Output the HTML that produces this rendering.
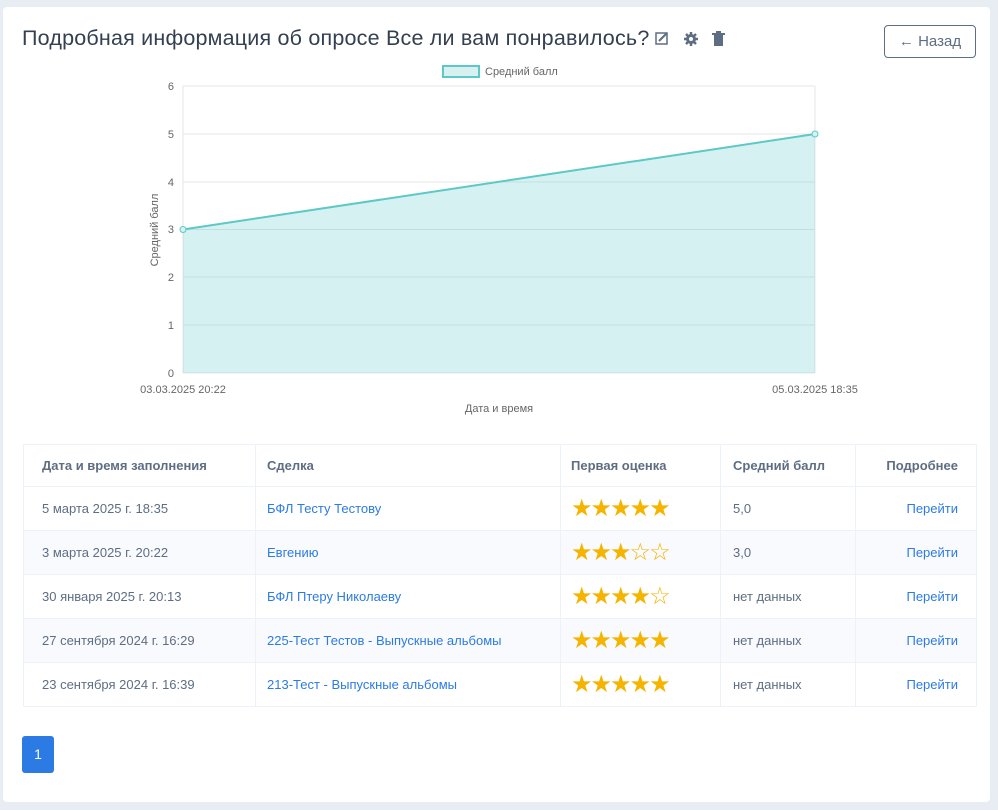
<!DOCTYPE html>
<html><head><meta charset="utf-8"><style>
body{margin:0;width:998px;height:810px;background:#e8edf4;font-family:"Liberation Sans",sans-serif;overflow:hidden;position:relative}
.card{position:absolute;left:3px;top:7px;width:987px;height:795px;background:#fff;border-radius:4px}
.title{position:absolute;left:22px;top:26px;font-size:21.5px;color:#344050;white-space:nowrap;letter-spacing:0.2px}
.btn{position:absolute;left:884px;top:25px;width:92px;height:33px;border:1px solid #5e6e82;border-radius:4px;color:#5e6e82;font-size:15px;line-height:32px;text-align:center;box-sizing:border-box}
table{position:absolute;left:23px;top:444px;width:953px;border-collapse:collapse;font-size:13px;color:#5e6e82;table-layout:fixed}
td,th{border:1px solid #edf2f9;padding:0 18px;height:43px;text-align:left;white-space:nowrap;overflow:hidden;line-height:16px}
th{font-weight:bold;color:#5e6e82;height:41px}
tr.s td{background:#f9fafd}
a{color:#2c7be5;text-decoration:none}
.st{color:#f5b400;font-size:24px;line-height:22px;letter-spacing:-2px;padding-left:10px}
.r{text-align:right}
.pg{position:absolute;left:22px;top:736px;width:32px;height:37px;background:#2c7be5;border-radius:3px;color:#fff;font-size:14px;line-height:37px;text-align:center}
.p11{padding-left:11px}.p12{padding-left:12px}.p10{padding-left:10px}
</style></head><body>
<div class="card"></div>
<div class="title">Подробная информация об опросе Все ли вам понравилось?</div>
<svg style="position:absolute;left:655px;top:31px" width="75" height="16">
<rect x="1" y="2" width="11" height="11" fill="none" stroke="#5e6e82" stroke-width="1.5"/><line x1="4" y1="10" x2="12" y2="2" stroke="#5e6e82" stroke-width="2"/>
<circle cx="36" cy="8" r="5" fill="#5e6e82"/>
<g stroke="#5e6e82" stroke-width="2.5"><line x1="36" y1="1" x2="36" y2="15"/><line x1="29" y1="8" x2="43" y2="8"/><line x1="31" y1="3" x2="41" y2="13"/><line x1="41" y1="3" x2="31" y2="13"/></g>
<circle cx="36" cy="8" r="2" fill="#fff"/>
<rect x="59" y="4" width="9" height="11" fill="#5e6e82"/><rect x="57" y="2" width="13" height="2" fill="#5e6e82"/><rect x="61" y="0" width="5" height="2" fill="#5e6e82"/>
</svg>
<div class="btn">← Назад</div>
<svg style="position:absolute;left:0;top:0" width="998" height="430" font-family="Liberation Sans, sans-serif" font-size="11" fill="#666">
<rect x="443" y="66" width="36" height="11" fill="#d8f0f0" stroke="#5cc9c6" stroke-width="2"/>
<text x="485" y="75" font-size="11">Средний балл</text>
<g stroke="#e6e6e6">
<line x1="183" y1="86" x2="815" y2="86"/><line x1="183" y1="134" x2="815" y2="134"/>
<line x1="183" y1="182" x2="815" y2="182"/><line x1="183" y1="229.5" x2="815" y2="229.5"/>
<line x1="183" y1="277" x2="815" y2="277"/><line x1="183" y1="325" x2="815" y2="325"/>
<line x1="183" y1="373" x2="815" y2="373"/><line x1="815" y1="86" x2="815" y2="373"/><line x1="183" y1="86" x2="183" y2="373"/>
</g>
<polygon points="183,229.5 815,134 815,373 183,373" fill="#5cc9c6" fill-opacity="0.25"/>
<polyline points="183,229.5 815,134" stroke="#5cc9c6" stroke-width="2" fill="none"/>
<circle cx="183" cy="229.5" r="3" fill="#d8f0f0" stroke="#5cc9c6"/><circle cx="815" cy="134" r="3" fill="#d8f0f0" stroke="#5cc9c6"/>
<g text-anchor="end"><text x="174" y="90">6</text><text x="174" y="138">5</text><text x="174" y="186">4</text><text x="174" y="233">3</text><text x="174" y="281">2</text><text x="174" y="329">1</text><text x="174" y="377">0</text></g>
<text x="183" y="393" text-anchor="middle">03.03.2025 20:22</text>
<text x="815" y="393" text-anchor="middle">05.03.2025 18:35</text>
<text x="499" y="412" text-anchor="middle">Дата и время</text>
<text transform="translate(158,230) rotate(-90)" text-anchor="middle">Средний балл</text>
</svg>
<table>
<colgroup><col style="width:232px"><col style="width:305px"><col style="width:160px"><col style="width:135px"><col style="width:121px"></colgroup>
<tr><th>Дата и время заполнения</th><th class="p11">Сделка</th><th class="p10">Первая оценка</th><th class="p12">Средний балл</th><th class="r">Подробнее</th></tr>
<tr><td>5 марта 2025 г. 18:35</td><td class="p11"><a>БФЛ Тесту Тестову</a></td><td class="st">★★★★★</td><td class="p12">5,0</td><td class="r"><a>Перейти</a></td></tr>
<tr class="s"><td>3 марта 2025 г. 20:22</td><td class="p11"><a>Евгению</a></td><td class="st">★★★☆☆</td><td class="p12">3,0</td><td class="r"><a>Перейти</a></td></tr>
<tr><td>30 января 2025 г. 20:13</td><td class="p11"><a>БФЛ Птеру Николаеву</a></td><td class="st">★★★★☆</td><td class="p12">нет данных</td><td class="r"><a>Перейти</a></td></tr>
<tr class="s"><td>27 сентября 2024 г. 16:29</td><td class="p11"><a>225-Тест Тестов - Выпускные альбомы</a></td><td class="st">★★★★★</td><td class="p12">нет данных</td><td class="r"><a>Перейти</a></td></tr>
<tr><td>23 сентября 2024 г. 16:39</td><td class="p11"><a>213-Тест - Выпускные альбомы</a></td><td class="st">★★★★★</td><td class="p12">нет данных</td><td class="r"><a>Перейти</a></td></tr>
</table>
<div class="pg">1</div>
</body></html>
